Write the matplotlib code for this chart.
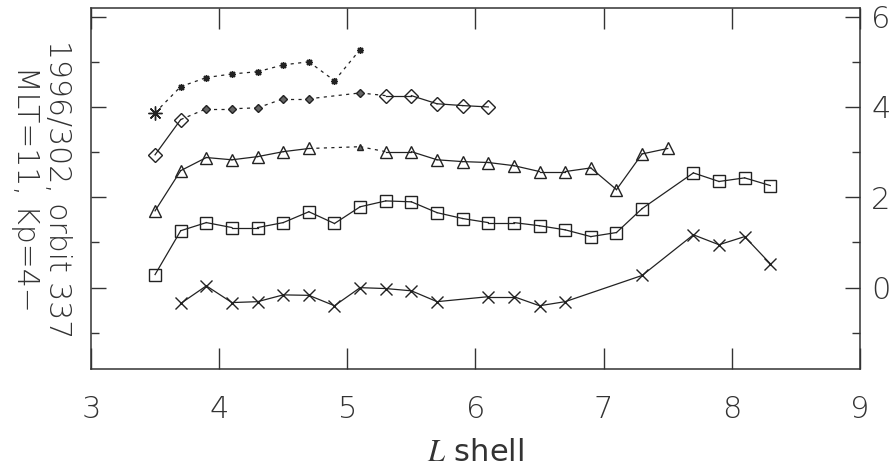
import matplotlib
matplotlib.use("Agg")
import matplotlib.pyplot as plt
import numpy as np

plt.rcParams["font.family"] = ["DejaVu Sans"]
plt.rcParams["font.weight"] = "light"
plt.rcParams["mathtext.fontset"] = "stix"

# L shell positions and values for each curve (missing points left out)
# a "weak" flag marks points drawn small and joined with dotted lines
star_L = [3.5, 3.7, 3.9, 4.1, 4.3, 4.5, 4.7, 4.9, 5.1]
star_v = [3.87, 4.45, 4.65, 4.73, 4.78, 4.93, 5.00, 4.58, 5.27]
star_weak = [0, 1, 1, 1, 1, 1, 1, 1, 1]

diam_L = [3.5, 3.7, 3.9, 4.1, 4.3, 4.5, 4.7, 5.1, 5.3, 5.5, 5.7, 5.9, 6.1]
diam_v = [2.94, 3.72, 3.96, 3.96, 3.98, 4.18, 4.18, 4.31, 4.25, 4.25, 4.07, 4.03, 4.00]
diam_weak = [0, 0, 1, 1, 1, 1, 1, 1, 0, 0, 0, 0, 0]

tri_L = [3.5, 3.7, 3.9, 4.1, 4.3, 4.5, 4.7, 5.1, 5.3, 5.5, 5.7, 5.9, 6.1, 6.3,
         6.5, 6.7, 6.9, 7.1, 7.3, 7.5]
tri_v = [1.70, 2.59, 2.88, 2.83, 2.90, 3.01, 3.08, 3.12, 3.01, 3.01, 2.83, 2.79,
         2.77, 2.70, 2.57, 2.57, 2.65, 2.17, 2.96, 3.08]
tri_weak = [0, 0, 0, 0, 0, 0, 0, 1, 0, 0, 0, 0, 0, 0, 0, 0, 0, 0, 0, 0]

sq_L = [3.5, 3.7, 3.9, 4.1, 4.3, 4.5, 4.7, 4.9, 5.1, 5.3, 5.5, 5.7, 5.9, 6.1,
        6.3, 6.5, 6.7, 6.9, 7.1, 7.3, 7.7, 7.9, 8.1, 8.3]
sq_v = [0.29, 1.26, 1.44, 1.33, 1.33, 1.44, 1.68, 1.42, 1.79, 1.92, 1.90, 1.66,
        1.53, 1.44, 1.44, 1.37, 1.28, 1.13, 1.22, 1.75, 2.54, 2.35, 2.43, 2.26]
sq_weak = [0] * len(sq_L)

x_L = [3.7, 3.9, 4.1, 4.3, 4.5, 4.7, 4.9, 5.1, 5.3, 5.5, 5.7, 6.1, 6.3, 6.5,
       6.7, 7.3, 7.7, 7.9, 8.1, 8.3]
x_v = [-0.35, 0.04, -0.33, -0.31, -0.16, -0.17, -0.40, 0.00, -0.02, -0.07,
       -0.31, -0.20, -0.20, -0.40, -0.31, 0.27, 1.17, 0.95, 1.13, 0.53]
x_weak = [0] * len(x_L)

info_lines = ["1996/302, orbit 337", "MLT=11, Kp=4\u2212"]
xticks = [3, 4, 5, 6, 7, 8, 9]
yticks = [0, 2, 4, 6]
yminor = [-1, 1, 3, 5]

col = "#222222"
txt = "#333333"


def draw_curve(ax, L, v, weak, marker, ms, small_ms):
    L = np.asarray(L)
    v = np.asarray(v)
    weak = np.asarray(weak, dtype=bool)
    # solid between two strong points, dotted otherwise
    for i in range(len(L) - 1):
        ls = "-" if not (weak[i] or weak[i + 1]) else (0, (2.5, 3.5))
        ax.plot(L[i:i + 2], v[i:i + 2], color=col, lw=0.9, linestyle=ls)
    ax.plot(L[~weak], v[~weak], linestyle="none", marker=marker, ms=ms,
            mfc="none", mec=col, mew=1.0)
    if weak.any():
        ax.plot(L[weak], v[weak], linestyle="none", marker=marker,
                ms=small_ms, mfc="#666666", mec=col, mew=1.0)


fig = plt.figure(figsize=(8.91, 4.71), dpi=100)
ax = fig.add_axes([0.1021, 0.2166, 0.8631, 0.7674])

draw_curve(ax, star_L, star_v, star_weak, (8, 2, 0), 10, 5)
draw_curve(ax, diam_L, diam_v, diam_weak, "D", 7, 4)
draw_curve(ax, tri_L, tri_v, tri_weak, "^", 9, 5)
draw_curve(ax, sq_L, sq_v, sq_weak, "s", 9, 5)
draw_curve(ax, x_L, x_v, x_weak, "x", 9, 5)

ax.set_xlim(3, 9)
ax.set_ylim(-1.8, 6.2)
ax.set_xticks(xticks)
ax.set_yticks(yticks)
ax.set_yticks(yminor, minor=True)
ax.tick_params(axis="x", which="major", direction="in", length=15, width=1,
               top=True, bottom=True, labelsize=22, pad=19, colors=txt)
ax.tick_params(axis="y", which="major", direction="in", length=11, width=1,
               left=True, right=True, labelleft=False, labelright=True,
               labelsize=22, pad=8, colors=txt)
ax.tick_params(axis="y", which="minor", direction="in", length=6, width=1,
               left=True, right=True, colors=txt)
for s in ax.spines.values():
    s.set_linewidth(1.1)
    s.set_color(txt)

ax.set_xlabel("$L$ shell", fontsize=22, color=txt, labelpad=10)

fig.text(0.0466, 0.599, "\n".join(info_lines), rotation=270, ha="center",
         va="center", multialignment="center", fontsize=21.5, color=txt,
         linespacing=1.15)

fig.savefig("out.png", dpi=100)
